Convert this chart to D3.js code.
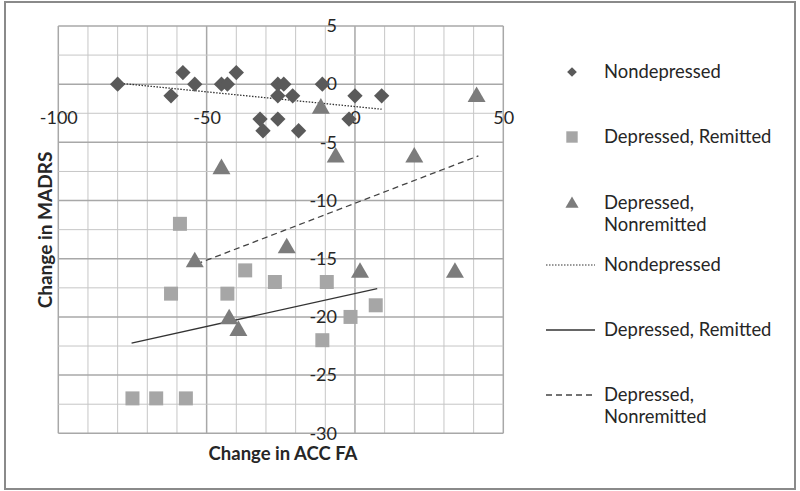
<!DOCTYPE html>
<html><head><meta charset="utf-8">
<script src="https://cdn.jsdelivr.net/npm/d3@7"></script>
<style>
html,body{margin:0;padding:0;background:#fff;}
svg text{font-family:"Lato","Open Sans",sans-serif;fill:#262626;}
</style></head>
<body><svg id="chart" width="800" height="491"></svg>
<script>
// ---- data ----
const nondepressed = [
  [-80,0],[-62,-1],[-58,1],[-54,0],[-45,0],[-43,0],[-40,1],[-32,-3],[-31,-4],
  [-26,0],[-24,0],[-26,-1],[-21,-1],[-26,-3],[-19,-4],[-11,0],[0,-1],[9,-1],[-2,-3]
];
const remitted = [
  [-59,-12],[-62,-18],[-43,-18],[-37,-16],[-27,-17],[-9.5,-17],[7,-19],[-1.5,-20],
  [-11,-22],[-75,-27],[-67,-27],[-57,-27]
];
const nonremitted = [
  [41,-1],[-11.5,-2],[-6.5,-6.2],[20,-6.2],[-45,-7.2],[-54,-15.2],[-23,-14],
  [1.7,-16.1],[33.7,-16.1],[-42.4,-20.1],[-39.3,-21.1]
];
const trendNondepressed = [[-80,0.1],[9,-2.15]];
const trendRemitted = [[-75.3,-22.25],[7.5,-17.56]];
const trendNonremitted = [[-53.4,-15.46],[41.6,-6.16]];
const xTickLabels = [-100,-50,0,50];
const yTickLabels = [-30,-25,-20,-15,-10,-5,0,5];
const xGrid = d3.range(-100, 51, 10);
const yGrid = d3.range(-30, 5.01, 2.5);
const seriesNames = ["Nondepressed","Depressed, Remitted","Depressed, Nonremitted"];

// ---- drawing ----
const svg = d3.select("#chart");
const x = d3.scaleLinear().domain([-100,50]).range([58.3,503.3]);
const y = d3.scaleLinear().domain([-30,5]).range([433.3,26]);
const fmt = d => String(d); // plain hyphen-minus as in the original

svg.append("rect").attr("x",5).attr("y",2).attr("width",790).attr("height",487)
  .attr("fill","#fff").attr("stroke","#8a8a8a").attr("stroke-width",2);

const grid = svg.append("g");
grid.selectAll("line.v").data(xGrid).join("line")
  .attr("x1",d=>x(d)).attr("x2",d=>x(d)).attr("y1",y(5)).attr("y2",y(-30))
  .attr("stroke",d=>d%50===0?"#a8a8a8":"#c6c6c6").attr("stroke-width",d=>d%50===0?1.5:1);
grid.selectAll("line.h").data(yGrid).join("line")
  .attr("y1",d=>y(d)).attr("y2",d=>y(d)).attr("x1",x(-100)).attr("x2",x(50))
  .attr("stroke",d=>d%5===0?"#a8a8a8":"#c6c6c6").attr("stroke-width",d=>d%5===0?1.5:1);

// axes labels
const xAxis = d3.axisBottom(x).tickValues(xTickLabels).tickFormat(fmt).tickSize(0).tickPadding(0);
const gx = svg.append("g").attr("transform",`translate(0,${y(0)+27})`).call(xAxis);
gx.select(".domain").remove();
gx.selectAll("text").attr("font-size",18).attr("font-family","Lato,'Open Sans',sans-serif").attr("fill","#262626");

const yAxis = d3.axisLeft(y).tickValues(yTickLabels).tickFormat(fmt).tickSize(0).tickPadding(0);
const gy = svg.append("g").attr("transform",`translate(${x(0)-18},0)`).call(yAxis);
gy.select(".domain").remove();
gy.selectAll("text").attr("font-size",18).attr("font-family","Lato,'Open Sans',sans-serif").attr("fill","#262626");

// trend lines
const line = d3.line().x(d=>x(d[0])).y(d=>y(d[1]));
svg.append("path").datum(trendNondepressed).attr("d",line).attr("fill","none")
  .attr("stroke","#333").attr("stroke-width",1.3).attr("stroke-dasharray","1.5,1.5");
svg.append("path").datum(trendRemitted).attr("d",line).attr("fill","none")
  .attr("stroke","#333").attr("stroke-width",1.3);
svg.append("path").datum(trendNonremitted).attr("d",line).attr("fill","none")
  .attr("stroke","#444").attr("stroke-width",1.3).attr("stroke-dasharray","6,4");

// markers
const diamond = d3.symbol().type(d3.symbolDiamond2).size(150);
const square = d3.symbol().type(d3.symbolSquare).size(196);
const tri = d3.symbol().type(d3.symbolTriangle).size(140);
svg.append("g").selectAll("path").data(nondepressed).join("path")
  .attr("d",diamond).attr("transform",d=>`translate(${x(d[0])},${y(d[1])})`).attr("fill","#5a5a5a");
svg.append("g").selectAll("path").data(remitted).join("path")
  .attr("d",square).attr("transform",d=>`translate(${x(d[0])},${y(d[1])})`).attr("fill","#a6a6a6");
svg.append("g").selectAll("path").data(nonremitted).join("path")
  .attr("d",tri).attr("transform",d=>`translate(${x(d[0])},${y(d[1])+1})`).attr("fill","#7c7c7c");

// axis titles
svg.append("text").attr("x",283).attr("y",460).attr("text-anchor","middle")
  .attr("font-size",18.5).attr("font-weight","bold").text("Change in ACC FA");
svg.append("text").attr("transform","translate(52,230) rotate(-90)").attr("text-anchor","middle")
  .attr("font-size",19).attr("font-weight","bold").text("Change in MADRS");

// legend
const lg = svg.append("g");
const fs = 18.4;
function legText(yy, lines){
  const t = lg.append("text").attr("x",604).attr("y",yy).attr("font-size",fs);
  lines.forEach((s,i)=>t.append("tspan").attr("x",604).attr("dy",i===0?0:22).text(s));
}
lg.append("path").attr("d",d3.symbol().type(d3.symbolDiamond2).size(60)).attr("transform","translate(572,72)").attr("fill","#5a5a5a");
legText(78,[seriesNames[0]]);
lg.append("path").attr("d",d3.symbol().type(d3.symbolSquare).size(130)).attr("transform","translate(572,137)").attr("fill","#a6a6a6");
legText(143,[seriesNames[1]]);
lg.append("path").attr("d",d3.symbol().type(d3.symbolTriangle).size(75)).attr("transform","translate(572,204)").attr("fill","#7c7c7c");
legText(209,["Depressed,","Nonremitted"]);
lg.append("line").attr("x1",546).attr("x2",595).attr("y1",265).attr("y2",265).attr("stroke","#333").attr("stroke-width",1.2).attr("stroke-dasharray","1.5,1.5");
legText(271,[seriesNames[0]]);
lg.append("line").attr("x1",546).attr("x2",595).attr("y1",330).attr("y2",330).attr("stroke","#333").attr("stroke-width",1.3);
legText(336,[seriesNames[1]]);
lg.append("line").attr("x1",546).attr("x2",595).attr("y1",395).attr("y2",395).attr("stroke","#444").attr("stroke-width",1.3).attr("stroke-dasharray","6,4");
legText(401,["Depressed,","Nonremitted"]);
</script></body></html>
